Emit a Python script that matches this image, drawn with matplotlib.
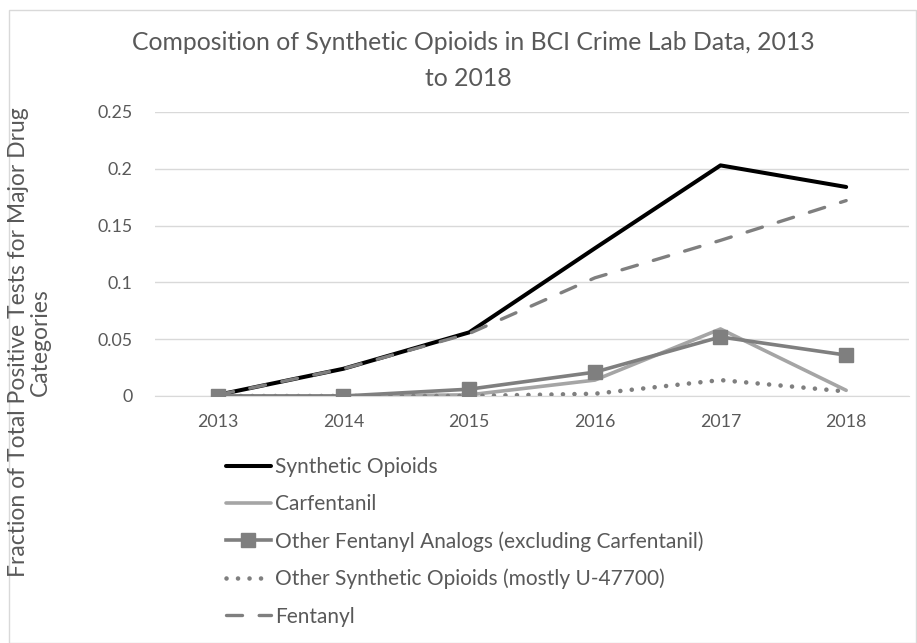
import matplotlib
matplotlib.use("Agg")
import matplotlib.pyplot as plt
from matplotlib.patches import Rectangle

plt.rcParams['font.family'] = ['Lato', 'DejaVu Sans']

years = ["2013", "2014", "2015", "2016", "2017", "2018"]
synthetic_opioids = [0.001, 0.024, 0.056, 0.130, 0.203, 0.184]
carfentanil = [0.0, 0.0, 0.001, 0.014, 0.059, 0.005]
other_fentanyl_analogs = [0.0, 0.0, 0.006, 0.021, 0.052, 0.036]
other_synthetic = [0.0, 0.0, 0.0, 0.002, 0.014, 0.004]
fentanyl = [0.001, 0.024, 0.055, 0.104, 0.137, 0.172]

y_ticks = [0, 0.05, 0.1, 0.15, 0.2, 0.25]
y_tick_labels = ["0", "0.05", "0.1", "0.15", "0.2", "0.25"]

W, H = 917, 643
fig = plt.figure(figsize=(W / 100, H / 100), dpi=100)

# chart frame
fig.patches.append(Rectangle((9 / W, 0), (W - 10) / W, (H - 10) / H,
                             transform=fig.transFigure, fill=False,
                             edgecolor="#D9D9D9", linewidth=1.0))

left, right, top, bottom = 155, 909, 112, 396
ax = fig.add_axes([left / W, 1 - bottom / H, (right - left) / W, (bottom - top) / H])

x = list(range(len(years)))
text_color = "#595959"

ax.plot(x, synthetic_opioids, color="black", lw=2.9, solid_joinstyle="round",
        solid_capstyle="round", label="Synthetic Opioids", zorder=3)
ax.plot(x, carfentanil, color="#A5A5A5", lw=2.6, solid_joinstyle="round",
        solid_capstyle="round", label="Carfentanil", zorder=3)
ax.plot(x, other_fentanyl_analogs, color="#7F7F7F", lw=2.6, marker="s", ms=10.5,
        solid_joinstyle="round", label="Other Fentanyl Analogs (excluding Carfentanil)", zorder=4)
ax.plot(x, other_synthetic, color="#7F7F7F", lw=3.3, linestyle=(0, (0.01, 2.5)),
        dash_capstyle="round", label="Other Synthetic Opioids (mostly U-47700)", zorder=3)
ax.plot(x, fentanyl, color="#7F7F7F", lw=2.4, linestyle=(0, (4.8, 5.0)),
        dash_capstyle="round", label="Fentanyl", zorder=5)

ax.set_xlim(-0.5, len(years) - 0.5)
ax.set_ylim(0, 0.25)
ax.set_xticks(x)
ax.set_xticklabels(years)
ax.set_yticks(y_ticks)
ax.set_yticklabels(y_tick_labels)
ax.tick_params(length=0, labelsize=12.8, colors=text_color)
ax.tick_params(axis="y", pad=16)
ax.tick_params(axis="x", pad=13)
ax.grid(axis="y", color="#D9D9D9", lw=1.0)
ax.set_axisbelow(True)
for s in ax.spines.values():
    s.set_visible(False)
ax.spines["bottom"].set_visible(True)
ax.spines["bottom"].set_color("#D9D9D9")

fig.text(473 / W, 1 - 43 / H, "Composition of Synthetic Opioids in BCI Crime Lab Data, 2013",
         ha="center", va="center", fontsize=17.8, color=text_color)
fig.text(468 / W, 1 - 78 / H, "to 2018", ha="center", va="center", fontsize=17.8, color=text_color)

fig.text(29 / W, 1 - 342 / H, "Fraction of Total Positive Tests for Major Drug\nCategories",
         ha="center", va="center", rotation=90, fontsize=16.5, color=text_color,
         linespacing=1.05, multialignment="center")

leg = fig.legend(loc="upper left", bbox_to_anchor=(226 / W, 1 - 457 / H),
                 frameon=False, fontsize=15, handlelength=2.15, handletextpad=0.2,
                 labelspacing=0.82, numpoints=1, borderpad=0, borderaxespad=0,
                 labelcolor=text_color)

fig.savefig("out.png", dpi=100)
